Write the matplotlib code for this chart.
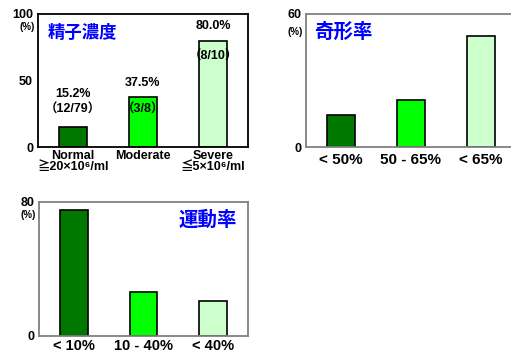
import matplotlib.pyplot as plt

plt.rcParams['font.family'] = ['Liberation Sans', 'Noto Sans CJK JP', 'DejaVu Sans']
plt.rcParams['font.weight'] = 'bold'

# sperm concentration
conc_cats = ["Normal\n≧20×10⁶/ml", "Moderate", "Severe\n≦5×10⁶/ml"]
conc_vals = [15.2, 37.5, 80.0]
conc_counts = ["（12/79）", "（3/8）", "（8/10）"]

# abnormal morphology rate
morph_cats = ["< 50%", "50 - 65%", "< 65%"]
morph_vals = [14.5, 21.0, 50.0]

# motility rate
motil_cats = ["< 10%", "10 - 40%", "< 40%"]
motil_vals = [75.0, 26.0, 21.0]

colors = ["#007800", "#00ff00", "#ccffcc"]

W, H = 511, 353
fig = plt.figure(figsize=(W / 100, H / 100), dpi=100)


def box(left, top, right, bottom):
    return fig.add_axes([left / W, (H - bottom) / H, (right - left) / W, (bottom - top) / H])


def panel(ax, cats, vals, ymax, ticks, spine_color, xsize, pct_y, xpad):
    x = range(len(cats))
    ax.bar(x, vals, width=0.4, color=colors, edgecolor="black", linewidth=1.2)
    ax.set_xlim(-0.5, 2.5)
    ax.set_ylim(0, ymax)
    ax.set_yticks(ticks)
    ax.set_yticklabels([str(t) for t in ticks], fontsize=9, fontweight="bold")
    ax.set_xticks(list(x))
    ax.set_xticklabels(cats, fontsize=xsize, fontweight="bold", linespacing=0.9)
    ax.tick_params(axis="y", length=0, pad=3.5)
    ax.tick_params(axis="x", length=0, pad=xpad)
    for s in ax.spines.values():
        s.set_color(spine_color)
        s.set_linewidth(1.3)
    ax.text(-0.015, pct_y, "(%)", transform=ax.transAxes, ha="right", va="center",
            fontsize=7, fontweight="bold")


ax1 = box(38, 14, 248, 147)
panel(ax1, conc_cats, conc_vals, 100, [0, 50, 100], "black", 9, 0.9, 2)
ax1.text(0.21, 0.857, "精子濃度", transform=ax1.transAxes, ha="center", va="center",
         color="#0000ff", fontsize=12.5, fontweight="bold", family="Noto Sans CJK JP")
# label offsets from the bar tops
pct_off = [24.6, 10.6, 11.0]
cnt_off = [12.6, -9.7, -12.3]
for i, v in enumerate(conc_vals):
    ax1.text(i, v + pct_off[i], f"{v:.1f}%", ha="center", va="center", fontsize=9,
             fontweight="bold")
    ax1.text(i, v + cnt_off[i], conc_counts[i], ha="center", va="center", fontsize=9,
             fontweight="bold")

ax2 = box(306, 14, 516, 147)
panel(ax2, morph_cats, morph_vals, 60, [0, 60], "#808080", 11, 0.865, 4)
ax2.text(0.176, 0.865, "奇形率", transform=ax2.transAxes, ha="center", va="center",
         color="#0000ff", fontsize=14, fontweight="bold", family="Noto Sans CJK JP")

ax3 = box(39, 202, 248, 336)
panel(ax3, motil_cats, motil_vals, 80, [0, 80], "#808080", 10.5, 0.9, 2.5)
ax3.text(0.81, 0.866, "運動率", transform=ax3.transAxes, ha="center", va="center",
         color="#0000ff", fontsize=14, fontweight="bold", family="Noto Sans CJK JP")

fig.savefig("out.png", dpi=100)
